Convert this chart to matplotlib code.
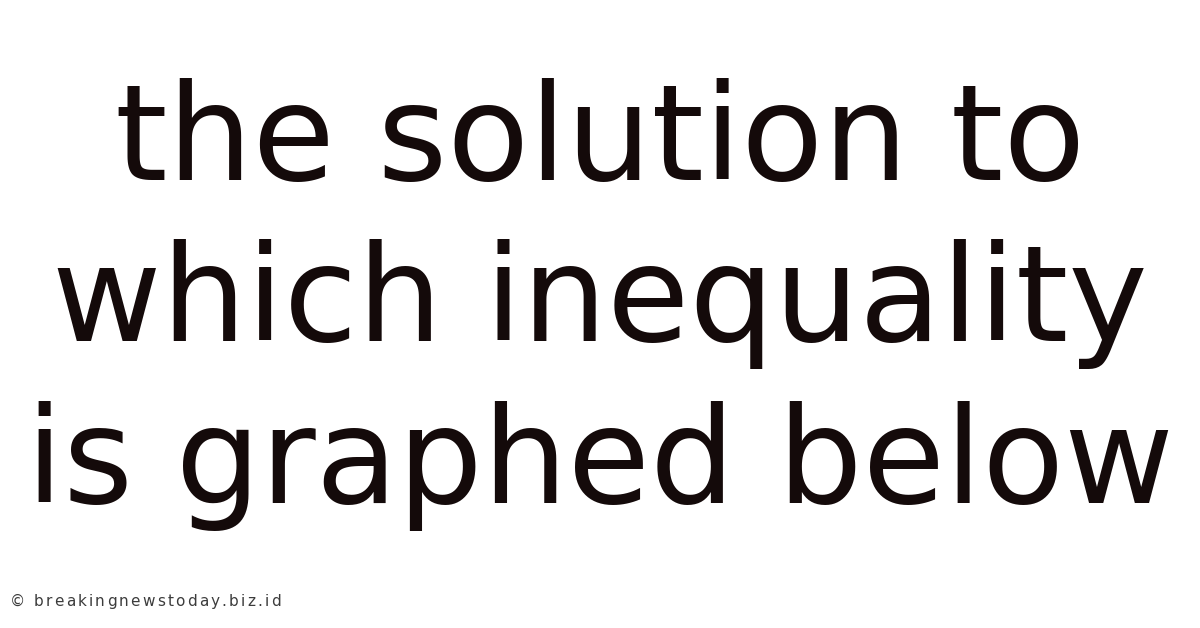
import matplotlib
matplotlib.use("Agg")
import matplotlib.pyplot as plt

# title lines and their baselines (pixels from top)
lines = ["the solution to", "which inequality", "is graphed below"]
baselines = [180, 341, 503]
watermark = "© breakingnewstoday.biz.id"

W, H = 1200, 628
fig = plt.figure(figsize=(W / 100, H / 100), dpi=100)
fig.patch.set_facecolor("white")

for txt, yb in zip(lines, baselines):
    fig.text(0.5, 1 - yb / H, txt, ha="center", va="baseline",
             fontsize=96.5, color="#140a0a", family="DejaVu Sans")

# watermark, drawn char by char to get the wide letter spacing
renderer = fig.canvas.get_renderer()
x = 10.0
for ch in watermark:
    t = fig.text(x / W, 1 - 606 / H, ch, ha="left", va="baseline",
                 fontsize=11, color="#3c3c3c", family="DejaVu Sans")
    bb = t.get_window_extent(renderer)
    w = bb.width if ch != " " else 4
    x += w + 2.2

fig.savefig("out.png", dpi=100, facecolor="white")
